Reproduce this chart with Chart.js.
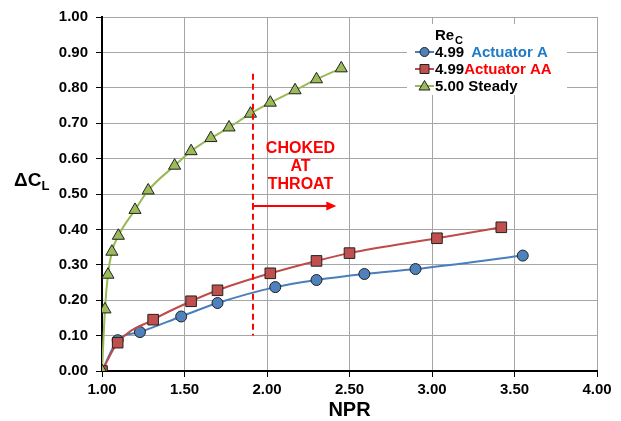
<!DOCTYPE html>
<html><head><meta charset="utf-8">
<script src="https://cdn.jsdelivr.net/npm/chart.js@4/dist/chart.umd.min.js"></script>
<style>html,body{margin:0;padding:0;background:#fff}#wrap{width:621px;height:421px}</style>
</head><body><div id="wrap"><canvas id="c" width="621" height="421"></canvas></div>
<script>
const nprA = [1.00, 1.095, 1.23, 1.48, 1.70, 2.05, 2.30, 2.59, 2.90, 3.55];
const dclA = [0.00, 0.087, 0.110, 0.154, 0.192, 0.237, 0.257, 0.274, 0.288, 0.326];
const nprAA = [1.00, 1.095, 1.31, 1.54, 1.70, 2.02, 2.30, 2.50, 3.03, 3.42];
const dclAA = [0.00, 0.080, 0.145, 0.197, 0.228, 0.276, 0.311, 0.333, 0.375, 0.406];
const nprS = [1.00, 1.018, 1.036, 1.06, 1.099, 1.20, 1.28, 1.44, 1.54, 1.66, 1.77, 1.90, 2.02, 2.17, 2.30, 2.45];
const dclS = [0.00, 0.174, 0.272, 0.337, 0.382, 0.455, 0.510, 0.580, 0.621, 0.658, 0.688, 0.727, 0.758, 0.793, 0.824, 0.855];
const legendRe = ['4.99', '4.99', '5.00'];
const legendNames = ['Actuator A', 'Actuator AA', 'Steady'];
const chokeNPR = 1.915, chokeTop = 0.84, chokeBottom = 0.10;
const arrowEnd = 2.42, arrowY = 0.466;
const chokeText = ['CHOKED', 'AT', 'THROAT'];
const chokeTextX = 2.203, chokeTextY = [0.615, 0.565, 0.514];

const pts = (xs, ys) => xs.map((x, i) => ({x, y: ys[i]}));
const FONT = "'Liberation Sans', Arial, sans-serif";

const annot = {
  id: 'annot',
  afterDraw(chart) {
    const ctx = chart.ctx, xs = chart.scales.x, ys = chart.scales.y;
    const X = v => xs.getPixelForValue(v), Y = v => ys.getPixelForValue(v);
    ctx.save();
    // dashed choke line
    ctx.strokeStyle = '#ff0000'; ctx.lineWidth = 2; ctx.setLineDash([6, 4]);
    ctx.beginPath(); ctx.moveTo(X(chokeNPR), Y(chokeTop)); ctx.lineTo(X(chokeNPR), Y(chokeBottom)); ctx.stroke();
    ctx.setLineDash([]);
    // arrow
    const ax0 = X(chokeNPR), ax1 = X(arrowEnd), ay = Y(arrowY);
    ctx.beginPath(); ctx.moveTo(ax0, ay - 3); ctx.lineTo(ax0, ay + 3); ctx.stroke();
    ctx.beginPath(); ctx.moveTo(ax0, ay); ctx.lineTo(ax1 - 8, ay); ctx.stroke();
    ctx.fillStyle = '#ff0000';
    ctx.beginPath(); ctx.moveTo(ax1, ay); ctx.lineTo(ax1 - 10, ay - 4.5); ctx.lineTo(ax1 - 10, ay + 4.5); ctx.closePath(); ctx.fill();
    // choked text
    ctx.font = 'bold 16px ' + FONT; ctx.textAlign = 'center'; ctx.textBaseline = 'alphabetic';
    chokeText.forEach((t, i) => ctx.fillText(t, X(chokeTextX), Y(chokeTextY[i])));
    // legend
    ctx.fillStyle = '#fff'; ctx.fillRect(407, 24, 160, 71);
    ctx.fillStyle = '#000'; ctx.textAlign = 'left';
    ctx.font = 'bold 15px ' + FONT; ctx.fillText('Re', 435, 40);
    ctx.font = 'bold 11px ' + FONT; ctx.fillText('C', 455, 44);
    const ds = chart.data.datasets;
    const nameColors = ['#1f7bc6', '#ff0000', '#000000'];
    [0, 1, 2].forEach(i => {
      const cy = 52 + i * 17;
      const d = ds[i];
      ctx.strokeStyle = d.borderColor; ctx.lineWidth = 2;
      ctx.beginPath(); ctx.moveTo(415, cy); ctx.lineTo(434, cy); ctx.stroke();
      ctx.fillStyle = d.pointBackgroundColor; ctx.strokeStyle = '#222'; ctx.lineWidth = 1;
      ctx.beginPath();
      if (d.pointStyle === 'circle') ctx.arc(424.5, cy, 4.5, 0, Math.PI * 2);
      else if (d.pointStyle === 'rect') ctx.rect(420, cy - 4.5, 9, 9);
      else { ctx.moveTo(424.5, cy - 5.5); ctx.lineTo(430, cy + 4); ctx.lineTo(419, cy + 4); ctx.closePath(); }
      ctx.fill(); ctx.stroke();
      ctx.font = 'bold 15px ' + FONT; ctx.fillStyle = '#000';
      ctx.textBaseline = 'middle';
      const re = legendRe[i] + (i === 2 ? ' ' : '');
      ctx.fillText(re, 435, cy + 1);
      const w = ctx.measureText(re).width;
      ctx.fillStyle = nameColors[i];
      ctx.fillText(legendNames[i], 435 + w + (i === 0 ? 7 : 0), cy + 1);
    });
    // axis titles
    ctx.fillStyle = '#000'; ctx.textBaseline = 'alphabetic'; ctx.textAlign = 'center';
    ctx.font = 'bold 20px ' + FONT;
    ctx.fillText('NPR', (chart.chartArea.left + chart.chartArea.right) / 2, 416);
    ctx.textAlign = 'left';
    ctx.font = 'bold 19px ' + FONT;
    ctx.fillText('\u0394C', 14, 186);
    const wd = ctx.measureText('\u0394C').width;
    ctx.font = 'bold 13px ' + FONT;
    ctx.fillText('L', 14 + wd, 190);
    ctx.restore();
  }
};

const common = {borderWidth: 2, pointBorderColor: '#222', pointBorderWidth: 1, cubicInterpolationMode: 'monotone', fill: false};
new Chart(document.getElementById('c'), {
  type: 'line',
  data: {
    datasets: [
      Object.assign({label: 'Actuator A', data: pts(nprA, dclA), borderColor: '#4a7ebb', backgroundColor: '#4f81bd', pointBackgroundColor: '#4f81bd', pointStyle: 'circle', pointRadius: 5.5, order: 3}, common),
      Object.assign({label: 'Actuator AA', data: pts(nprAA, dclAA), borderColor: '#be4b48', backgroundColor: '#c0504d', pointBackgroundColor: '#c0504d', pointStyle: 'rect', pointRadius: 7.5, order: 2}, common),
      Object.assign({label: 'Steady', data: pts(nprS, dclS), borderColor: '#98b954', backgroundColor: '#9bbb59', pointBackgroundColor: '#9bbb59', pointStyle: 'triangle', pointRadius: 7, order: 1}, common)
    ]
  },
  options: {
    responsive: false, animation: false, devicePixelRatio: 1,
    layout: {padding: {left: 0, top: 15, right: 24, bottom: 0}},
    plugins: {legend: {display: false}, tooltip: {enabled: false}},
    scales: {
      x: {type: 'linear', min: 1, max: 4,
        ticks: {stepSize: 0.5, padding: 4, color: '#000', font: {family: FONT, size: 15, weight: 'bold'}, callback: v => Number(v).toFixed(2)},
        grid: {color: '#a6a6a6', lineWidth: 1, tickColor: '#000', tickLength: 6},
        border: {color: '#000', width: 2},
        afterFit: s => { s.height = 50; }},
      y: {min: 0, max: 1,
        ticks: {stepSize: 0.1, padding: 8, color: '#000', font: {family: FONT, size: 15, weight: 'bold'}, callback: v => Number(v).toFixed(2)},
        grid: {color: '#a6a6a6', lineWidth: 1, tickColor: '#000', tickLength: 6},
        border: {color: '#000', width: 2},
        afterFit: s => { s.width = 102; }}
    }
  },
  plugins: [annot]
});
</script></body></html>
